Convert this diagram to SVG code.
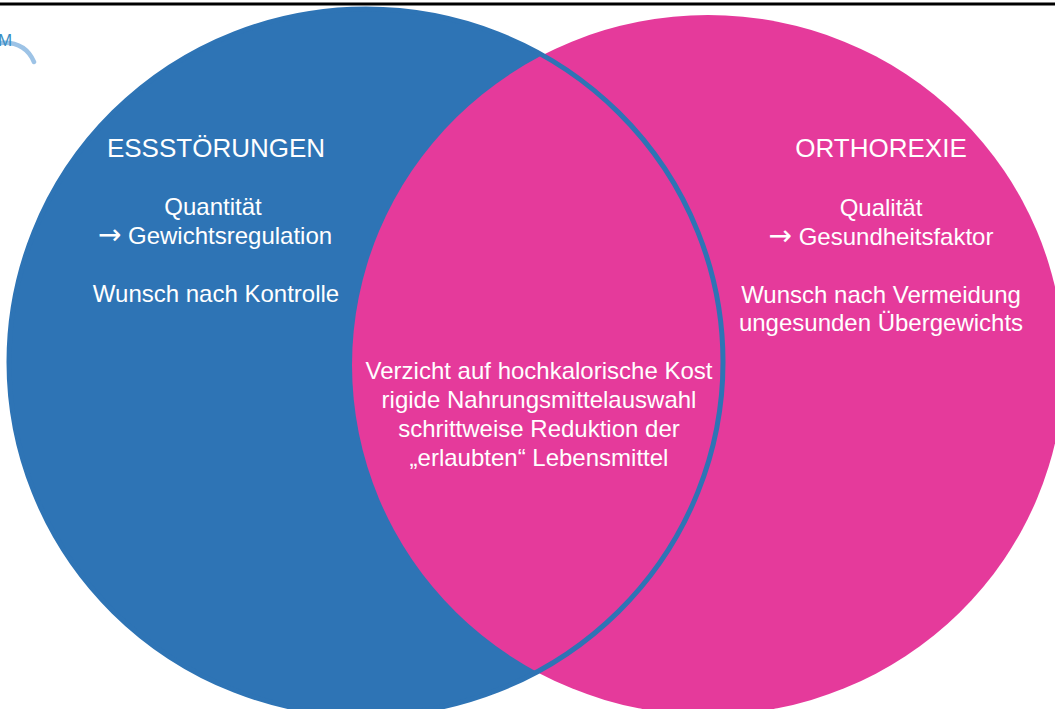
<svg xmlns="http://www.w3.org/2000/svg" width="1055" height="709" viewBox="0 0 1055 709">
<style>
.t{font-family:"Liberation Sans",Arial,sans-serif;fill:#ffffff;text-anchor:middle}
.h{font-size:26px}
.b{font-size:24px}
.ar{font-family:"DejaVu Sans",sans-serif;font-size:28px}
</style>
<rect x="0" y="0" width="1055" height="709" fill="#ffffff"/>
<line x1="0" y1="4" x2="1055" y2="4" stroke="#000000" stroke-width="3"/>
<g id="logo">
<path d="M0,43 Q25,41 34,62" fill="none" stroke="#9DC3E6" stroke-width="4.5" stroke-linecap="round"/>
<text x="-2" y="46" font-family="Liberation Sans,Arial,sans-serif" font-size="17" fill="#3A8FC4">M</text>
</g>
<g id="essstoerungen">
<ellipse cx="366" cy="362" rx="357" ry="353" fill="#2E74B5"/>
</g>
<g id="orthorexie">
<ellipse cx="708" cy="365" rx="356" ry="350" fill="#E53A9B"/>
</g>
<g id="outline">
<ellipse cx="366" cy="362" rx="357" ry="353" fill="none" stroke="#2E74B5" stroke-width="5"/>
</g>
<g id="labels-left">
<text class="t h" x="216" y="157">ESSSTÖRUNGEN</text>
<text class="t b" x="213" y="215">Quantität</text>
<text class="t b" x="215" y="244"><tspan class="ar">→</tspan> Gewichtsregulation</text>
<text class="t b" x="216" y="302">Wunsch nach Kontrolle</text>
</g>
<g id="labels-right">
<text class="t h" x="881" y="157">ORTHOREXIE</text>
<text class="t b" x="881" y="216">Qualität</text>
<text class="t b" x="881" y="245"><tspan class="ar">→</tspan> Gesundheitsfaktor</text>
<text class="t b" x="881" y="303">Wunsch nach Vermeidung</text>
<text class="t b" x="881" y="331">ungesunden Übergewichts</text>
</g>
<g id="labels-center">
<text class="t b" x="539" y="379">Verzicht auf hochkalorische Kost</text>
<text class="t b" x="539" y="408">rigide Nahrungsmittelauswahl</text>
<text class="t b" x="539" y="437">schrittweise Reduktion der</text>
<text class="t b" x="539" y="466">„erlaubten“ Lebensmittel</text>
</g>
</svg>
